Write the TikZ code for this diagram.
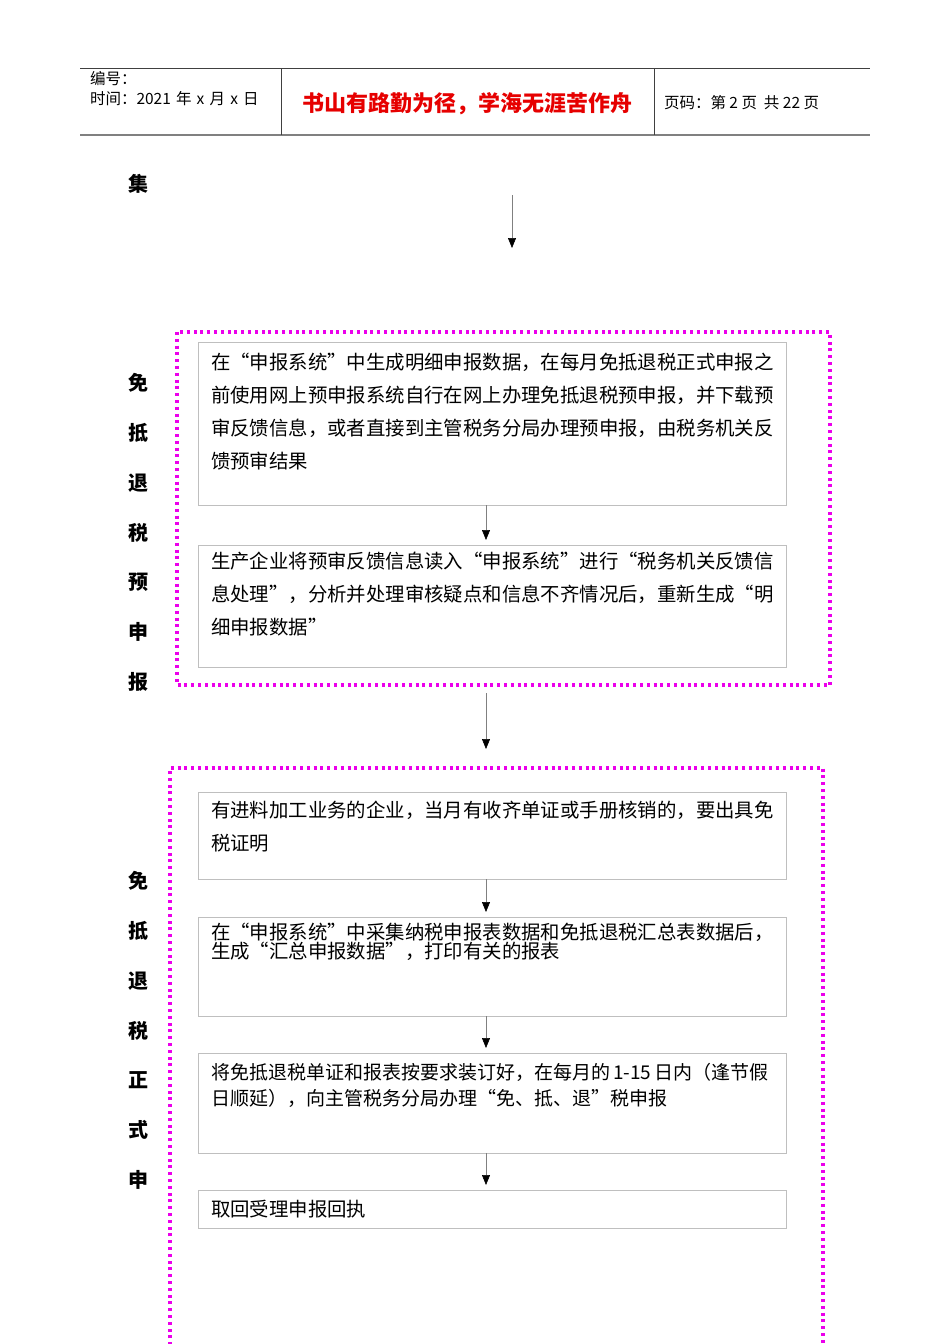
\documentclass[tikz,border=0pt]{standalone}
\usepackage{fontspec}
\setmainfont{Noto Sans CJK SC}
\usetikzlibrary{arrows.meta,positioning}

\definecolor{framegray}{RGB}{191,191,191}
\definecolor{dotpink}{RGB}{235,0,235}
\definecolor{titlered}{RGB}{230,0,0}

\begin{document}
\begin{tikzpicture}[x=1pt,y=-1pt]
    \pgfmathsetmacro{\midx}{486}
    \tikzset{
        every node/.style={inner sep=0pt, outer sep=0pt},
        stepbox/.style={draw=framegray, line width=0.8pt, minimum width=588pt, anchor=north west},
        boxtext/.style={anchor=base west, text width=600pt, align=left, font=\fontsize{19.4}{33}\selectfont},
        sidelabel/.style={anchor=base, text width=22pt, align=center, font=\bfseries\fontsize{20}{49.8}\selectfont},
        flow/.style={draw=gray, line width=0.6pt, -{Triangle[length=10pt,width=8pt,color=black]}},
        dotframe/.style={draw=dotpink, line width=3.4pt, dash pattern=on 3pt off 3.8pt},
        headrule/.style={draw=black!75, line width=0.8pt}
    }
    \clip (0,0) rectangle (950,1344);
    \fill[white] (0,0) rectangle (950,1344);

    % header
    \draw[headrule] (80,68) -- (870,68);
    \draw[draw=gray, line width=2pt] (80,135) -- (870,135);
    \draw[headrule] (281,68) -- (281,135);
    \draw[headrule] (654,68) -- (654,135);
    \node[anchor=base west, align=left, text width=185pt, font=\fontsize{15.5}{20}\selectfont] (docinfo) at (90,84.7) {编号：\\时间：2021 年 x 月 x 日};
    \node[anchor=base, text=titlered, font=\bfseries\fontsize{22}{26}\selectfont] (motto) at (467,111.4) {书山有路勤为径，学海无涯苦作舟};
    \node[anchor=base west, font=\fontsize{15.5}{20}\selectfont] (pageno) at (664,108.7) {页码：第 2 页\ \ 共 22 页};

    % top
    \node[sidelabel] (ji) at (138,191.6) {集};
    \coordinate (topstart) at (512,195);
    \coordinate (topend) at (512,248);
    \draw[flow] (topstart) -- (topend);

    % pre-declaration
    \draw[dotframe] (177,332) rectangle (830,685);
    \node[sidelabel] (prelabel) at (138,390.6) {免\\抵\\退\\税\\预\\申\\报};
    \node[stepbox, minimum height=163pt] (ba) at (198,342) {};
    \node[boxtext] (ta) at (211,369.4) {在“申报系统”中生成明细申报数据，在每月免抵退税正式申报之\\前使用网上预申报系统自行在网上办理免抵退税预申报，并下载预\\审反馈信息，或者直接到主管税务分局办理预申报，由税务机关反\\馈预审结果};
    \node[stepbox, minimum height=122pt] (bb) at (198,545) {};
    \node[boxtext] (tb) at (211,568.4) {生产企业将预审反馈信息读入“申报系统”进行“税务机关反馈信\\息处理”，分析并处理审核疑点和信息不齐情况后，重新生成“明\\细申报数据”};
    \draw[flow] (ba.south -| \midx,0) -- ([yshift=5pt]bb.north -| \midx,0);

    \coordinate (linkstart) at (\midx,693);
    \coordinate (linkend) at (\midx,749);
    \draw[flow] (linkstart) -- (linkend);

    % formal declaration
    \draw[dotframe] (170,1352) -- (170,768) -- (823,768) -- (823,1352);
    \node[sidelabel] (formlabel) at (138,888.6) {免\\抵\\退\\税\\正\\式\\申};
    \node[stepbox, minimum height=87pt] (bc) at (198,792) {};
    \node[boxtext] (tc) at (211,817.4) {有进料加工业务的企业，当月有收齐单证或手册核销的，要出具免\\税证明};
    \node[stepbox, minimum height=99pt] (bd) at (198,917) {};
    \node[boxtext, font=\fontsize{19.4}{19.5}\selectfont] (td) at (211,939.4) {在“申报系统”中采集纳税申报表数据和免抵退税汇总表数据后，\\生成“汇总申报数据”，打印有关的报表};
    \node[stepbox, minimum height=100pt] (be) at (198,1053) {};
    \node[boxtext, font=\fontsize{19}{26}\selectfont] (te) at (211,1079.4) {将免抵退税单证和报表按要求装订好，在每月的\,1-15\,日内（逢节假\\日顺延），向主管税务分局办理“免、抵、退”税申报};
    \node[stepbox, minimum height=38pt] (bf) at (198,1190) {};
    \node[boxtext] (tf) at (211,1216.4) {取回受理申报回执};
    \draw[flow] (bc.south -| \midx,0) -- ([yshift=5pt]bd.north -| \midx,0);
    \draw[flow] (bd.south -| \midx,0) -- ([yshift=5pt]be.north -| \midx,0);
    \draw[flow] (be.south -| \midx,0) -- ([yshift=5pt]bf.north -| \midx,0);
\end{tikzpicture}
\end{document}
